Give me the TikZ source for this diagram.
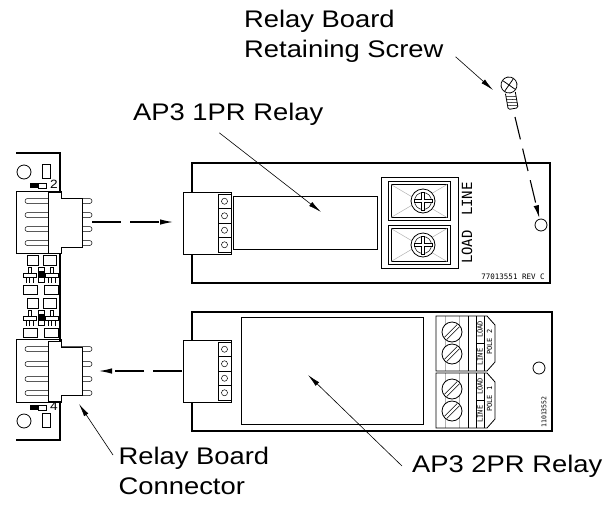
\documentclass[tikz,border=0pt]{standalone}
\usepackage{fontspec}
\setmainfont{Liberation Sans}[FakeStretch=1.14]
\newfontfamily\plotfont{DejaVu Sans Mono}
\usepackage{xcolor}
\usetikzlibrary{arrows.meta, positioning}

\begin{document}
\begin{tikzpicture}[
        x=1pt, y=-1pt,
        board/.style={line width=1.1pt},
        comp/.style={line width=0.8pt},
        hair/.style={line width=0.5pt},
        faint/.style={line width=0.5pt, gray!60},
        lbltext/.style={font=\fontsize{24}{29.5}\selectfont, inner sep=0pt, align=left},
        plottext/.style={font=\plotfont\fontsize{7}{7}\selectfont, inner sep=0pt},
        pointer/.style={-{Latex[length=13pt, width=5pt]}, line width=0.6pt},
        plug/.style={-{Latex[length=13pt, width=5.5pt]}, line width=1.1pt, dash pattern=on 29pt off 9pt},
    ]
    \useasboundingbox (0,0) rectangle (613,504);

    % main board with the two headers
    \draw[board] (16,153) -- (60,153) -- (60,440) -- (16,440);
    \foreach \Top/\Bot in {191/253, 339/402}
        \draw[comp] (16,\Top) rectangle (61,\Bot);
    \foreach \Y in {201,215,229,243,349,364,379,393}
        \draw[hair, rounded corners=2.4pt] (25,{\Y-2.5}) rectangle (92,{\Y+2.5});
    \foreach \Top/\Bot in {192/253, 341/401}
        \filldraw[comp, fill=white] (48,\Top) -- (61,\Top) -- (61,{\Top+6}) -- (82,{\Top+6})
            -- (82,{\Bot-6}) -- (61,{\Bot-6}) -- (61,\Bot) -- (48,\Bot) -- cycle;

    \foreach \Y/\Digit in {172/2, 421/4} {
        \draw[comp] (24,\Y) circle[radius=7];
        \draw[comp] (42,{\Y-7.5}) rectangle (50,{\Y+6.5});
    }
    \foreach \Y/\Digit in {185.5/2, 407.5/4} {
        \fill (30,{\Y-2.5}) rectangle (38,{\Y+2.5});
        \draw[hair] (38,{\Y-2.5}) rectangle (46,{\Y+2.5});
        \node[font=\fontsize{12}{12}\selectfont, inner sep=0pt] (pin\Digit) at (54,{\Y-1}) {\Digit};
    }
    \foreach \Dy in {0,43} {
        \begin{scope}[shift={(0,\Dy)}]
            \draw[hair] (27,255) rectangle (38,265) (43,255) rectangle (56,265)
                (23,285) rectangle (37,294) (44,285) rectangle (58,294)
                (38,267) rectangle (44,282);
            \fill (38.5,271) rectangle (43.5,278);
            \foreach \Dx in {0,22}
                \draw[hair] ({\Dx+28},267) rectangle ({\Dx+31},273)
                    ({\Dx+23},273) rectangle ({\Dx+36},277)
                    ({\Dx+26},277) -- ({\Dx+26},283) ({\Dx+29.5},277) -- ({\Dx+29.5},283)
                    ({\Dx+33},277) -- ({\Dx+33},283);
        \end{scope}
    }

    % 1PR relay board
    \draw[board] (192,163) rectangle (550,283);
    \draw[comp] (233,196) rectangle (377,249);
    \draw[comp] (381,177) rectangle (458,268);
    \foreach \Cy in {201,245} {
        \draw[comp] (388,{\Cy-19.5}) rectangle (450,{\Cy+19.5});
        \draw[hair] (391,{\Cy-16.5}) rectangle (447,{\Cy+16.5});
        \draw[faint] (391,{\Cy-16.5}) -- (447,{\Cy+16.5}) (391,{\Cy+16.5}) -- (447,{\Cy-16.5});
        \begin{scope}[shift={(423,\Cy)}]
            \filldraw[comp, fill=white] (0,0) circle[radius=12];
            \draw[hair] (0,0) circle[radius=8.5];
            \filldraw[hair, fill=white] (-1.6,-9) -- (1.6,-9) -- (1.6,-1.6) -- (9,-1.6) -- (9,1.6)
                -- (1.6,1.6) -- (1.6,9) -- (-1.6,9) -- (-1.6,1.6) -- (-9,1.6) -- (-9,-1.6)
                -- (-1.6,-1.6) -- cycle;
        \end{scope}
    }
    \node[rotate=90, font=\plotfont\fontsize{14}{14}\selectfont, inner sep=0pt] (lineA) at (467,199) {LINE};
    \node[rotate=90, font=\plotfont\fontsize{14}{14}\selectfont, inner sep=0pt] (loadA) at (467,247) {LOAD};
    \node[plottext, font=\plotfont\fontsize{7.5}{7.5}\selectfont] (revA) at (513,277) {77013551 REV C};
    \draw[comp] (541,225) circle[radius=6];
    \coordinate (holeA) at (541,225);

    % 2PR relay board
    \draw[board] (192,312) rectangle (552,431);
    \draw[comp] (241,317) rectangle (423,424);
    \foreach \Top/\Pole in {316/2, 373/1} {
        \draw[faint] (445,\Top) -- (445,{\Top+55}) (459,\Top) -- (459,{\Top+55});
        \draw[comp] (436,\Top) -- (487,\Top) -- (495,{\Top+9}) -- (495,{\Top+46})
            -- (487,{\Top+55}) -- (436,{\Top+55}) -- cycle;
        \draw[comp] (468,\Top) -- (468,{\Top+55}) (476,\Top) -- (476,{\Top+55})
            (484,\Top) -- (484,{\Top+55}) (476,{\Top+27}) -- (484,{\Top+27});
        \foreach \Sy in {16,38} {
            \filldraw[comp, fill=white] (452,{\Top+\Sy}) circle[radius=10];
            \draw[hair] ({452-5.3},{\Top+\Sy+7.5}) -- ({452+7.5},{\Top+\Sy-5.3})
                ({452-7.5},{\Top+\Sy+5.3}) -- ({452+5.3},{\Top+\Sy-7.5});
        }
        \node[plottext, rotate=90] (loadB\Pole) at (480,{\Top+13.5}) {LOAD};
        \node[plottext, rotate=90] (lineB\Pole) at (480,{\Top+41}) {LINE};
        \node[plottext, rotate=90] (pole\Pole) at (489.5,{\Top+26}) {POLE \Pole};
    }
    \node[plottext, font=\plotfont\fontsize{6.5}{6.5}\selectfont, rotate=90] (revB) at (544,412) {11013552};
    \draw[comp] (539,368) circle[radius=6];

    % relay connectors
    \foreach \Top in {192,340} {
        \filldraw[comp, fill=white] (183,\Top) rectangle (231,{\Top+62});
        \foreach \k in {0,...,3} {
            \draw[comp] (218,{\Top+2+14.5*\k}) rectangle (231,{\Top+16.5+14.5*\k});
            \draw[hair] (224.5,{\Top+9.25+14.5*\k}) circle[radius=3];
        }
    }

    % retaining screw
    \begin{scope}[shift={(509,85)}, rotate=10]
        \draw[comp] (0,0) circle[radius=8] (-5,-5) -- (5,5) (-5,5) -- (5,-5);
        \draw[comp, rounded corners=1.5pt] (-5,8) -- (-5,24) -- (5,24) -- (5,8);
        \foreach \T in {11,14,...,21}
            \draw[hair] (-5,\T) -- (5,{\T+1.5});
    \end{scope}

    \coordinate (scrtip) at (515,117);
    \coordinate (scrhead) at (493,90);
    \coordinate (pinsA) at (92,222);
    \coordinate (jackA) at (183,222);
    \coordinate (pinsB) at (92,371);
    \coordinate (jackB) at (183,371);
    \coordinate (relayone) at (321,212);
    \coordinate (relaytwo) at (308,375);
    \coordinate (conplug) at (79,404);

    \draw[plug, shorten >=10pt] (pinsA) -- (jackA);
    \draw[plug, shorten <=1pt, shorten >=7pt] (jackB) -- (pinsB);
    \draw[plug, dash pattern=on 23pt off 9.5pt, shorten >=7pt] (scrtip) -- (holeA);

    \node[lbltext, anchor=north west] (scrlbl) at (244,10) {Relay Board\\Retaining Screw};
    \node[lbltext, anchor=north west] (onelbl) at (133,103) {AP3 1PR Relay};
    \node[lbltext, anchor=north west] (conlbl) at (118.5,447) {Relay Board\\Connector};
    \node[lbltext, anchor=north west] (twolbl) at (412,455) {AP3 2PR Relay};

    \draw[pointer] ([xshift=12pt, yshift=5.5pt]scrlbl.south east) -- (scrhead);
    \draw[pointer] ([xshift=-9pt, yshift=-7pt]onelbl.south) -- (relayone);
    \draw[pointer] ([xshift=-5.5pt, yshift=-8pt]conlbl.north west) -- (conplug);
    \draw[pointer] ([xshift=-10pt, yshift=-11pt]twolbl.north west) -- (relaytwo);
\end{tikzpicture}
\end{document}
